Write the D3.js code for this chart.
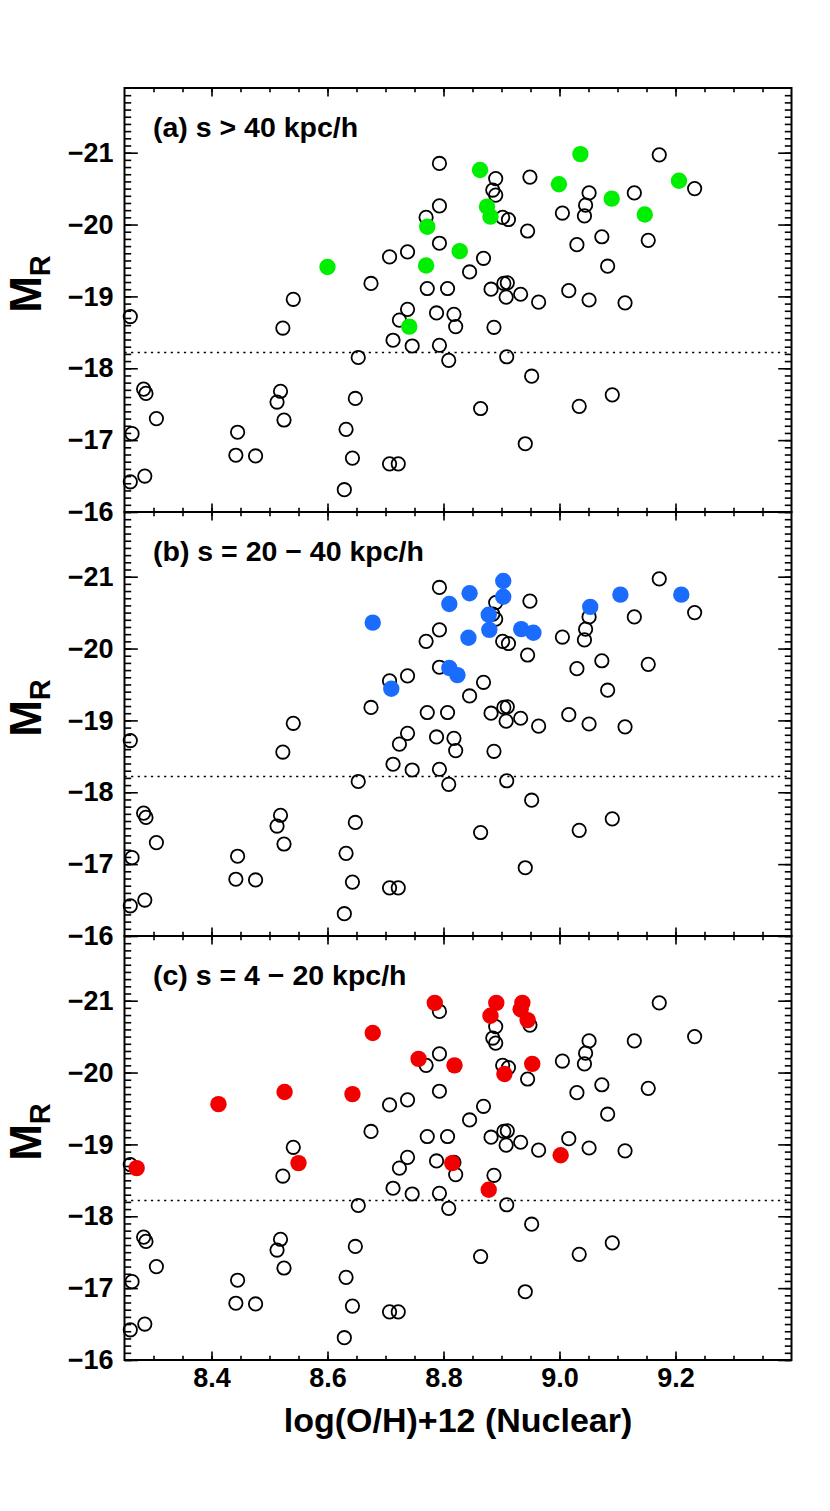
<!DOCTYPE html>
<html><head><meta charset="utf-8">
<script src="https://cdn.jsdelivr.net/npm/d3@7"></script>
<style>body{margin:0;background:#fff}svg{display:block}</style></head>
<body><svg id="chart" width="830" height="1511"></svg>
<script>
// Field sample (open circles, identical in all panels)
const sampleOH = [8.260,8.541,8.523,8.675,8.707,8.738,8.793,8.772,8.807,8.738,8.724,8.788,8.818,8.821,8.713,8.746,8.793,8.809,8.653,8.283,8.287,8.305,8.263,8.260,8.285,8.519,8.513,8.525,8.445,8.442,8.476,8.648,8.632,8.643,8.629,8.707,8.722,9.172,8.890,8.949,8.885,8.890,9.051,9.129,9.233,9.045,9.043,9.005,8.902,8.912,8.945,9.073,9.030,9.153,8.793,8.793,8.869,8.845,9.083,8.882,8.904,8.910,8.908,8.933,8.964,9.016,9.051,9.113,8.887,8.909,8.952,8.864,9.034,9.091,8.770,8.941];
const sampleMR = [-18.72,-18.96,-18.56,-19.18,-19.55,-19.62,-19.74,-19.11,-19.11,-18.82,-18.67,-18.77,-18.75,-18.58,-18.39,-18.31,-18.32,-18.11,-18.15,-17.71,-17.65,-17.30,-17.09,-16.42,-16.50,-17.68,-17.53,-17.28,-17.11,-16.79,-16.78,-17.58,-17.15,-16.75,-16.31,-16.67,-16.67,-20.97,-20.64,-20.66,-20.48,-20.41,-20.44,-20.44,-20.50,-20.27,-20.12,-20.16,-20.10,-20.07,-19.91,-19.83,-19.72,-19.78,-20.85,-20.26,-19.53,-19.34,-19.42,-19.10,-19.18,-19.19,-18.99,-19.03,-18.92,-19.08,-18.95,-18.91,-18.57,-18.16,-17.89,-17.44,-17.47,-17.63,-20.10,-16.95];

// (a) s > 40 kpc/h
const farOH = [8.600,8.741,8.770,8.772,8.828,8.863,8.875,8.881,8.999,9.036,9.090,9.147,9.206];
const farMR = [-19.41,-18.58,-19.43,-19.97,-19.63,-20.76,-20.25,-20.11,-20.56,-20.98,-20.36,-20.14,-20.61];
// (b) s = 20 - 40 kpc/h
const midOH = [8.678,8.810,8.845,8.843,8.878,8.879,8.903,8.903,8.934,8.955,9.053,9.105,9.210,8.810,8.824,8.710];
const midMR = [-20.36,-20.62,-20.77,-20.15,-20.47,-20.26,-20.94,-20.72,-20.27,-20.22,-20.58,-20.75,-20.75,-19.73,-19.63,-19.44];
// (c) s = 4 - 20 kpc/h
const closeOH = [8.271,8.412,8.526,8.550,8.643,8.678,8.757,8.785,8.819,8.815,8.881,8.891,8.905,8.933,8.936,8.945,8.953,9.002,8.878];
const closeMR = [-18.67,-19.56,-19.73,-18.74,-19.70,-20.55,-20.19,-20.97,-20.10,-18.74,-20.79,-20.97,-19.98,-20.88,-20.97,-20.73,-20.12,-18.85,-18.37];

const panelLabels = ["(a) s > 40 kpc/h", "(b) s = 20 \u2212 40 kpc/h", "(c) s = 4 \u2212 20 kpc/h"];
const panelColors = ["#00ee00", "#1a6cff", "#f20000"];
const xTickValues = [8.4, 8.6, 8.8, 9.0, 9.2];
const yTickValues = [-21, -20, -19, -18, -17, -16];
const xDomain = [8.25, 9.4];
const yDomain = [-21.9, -16.0];
const cutMR = -18.22;
const xTitle = "log(O/H)+12 (Nuclear)";

const panels = [
  {oh: farOH, mr: farMR},
  {oh: midOH, mr: midMR},
  {oh: closeOH, mr: closeMR}
];

const svg = d3.select("#chart");
const FONT = "'Liberation Sans', Arial, Helvetica, sans-serif";
const left = 124.5, right = 791.5, top0 = 88, ph = 424;
const x = d3.scaleLinear().domain(xDomain).range([left, right]);
const xMinor = d3.range(8.30, 9.40, 0.05).map(v => +v.toFixed(2));
const yMinor = d3.range(-21.8, -16.0, 0.1).map(v => +v.toFixed(1));

panels.forEach((p, i) => {
  const t = top0 + i * ph;
  const y = d3.scaleLinear().domain(yDomain).range([t, t + ph]);
  const g = svg.append("g");

  // dotted luminosity cut
  g.append("line")
    .attr("x1", x(xDomain[0])).attr("x2", x(xDomain[1]))
    .attr("y1", y(cutMR)).attr("y2", y(cutMR))
    .attr("stroke", "#000").attr("stroke-width", 1.6)
    .attr("stroke-dasharray", "2.2,4.4");

  const addAxis = (axis, tx, ty) => {
    const a = g.append("g").attr("transform", `translate(${tx},${ty})`).call(axis);
    a.select(".domain").remove();
    a.selectAll("line").attr("stroke", "#000").attr("stroke-width", 1.6);
    return a;
  };
  addAxis(d3.axisBottom(x).tickValues(xMinor).tickSize(-4.3).tickFormat(""), 0, t + ph);
  addAxis(d3.axisBottom(x).tickValues(xTickValues).tickSize(-8.6).tickFormat(""), 0, t + ph);
  addAxis(d3.axisTop(x).tickValues(xMinor).tickSize(-4.3).tickFormat(""), 0, t);
  addAxis(d3.axisTop(x).tickValues(xTickValues).tickSize(-8.6).tickFormat(""), 0, t);
  addAxis(d3.axisLeft(y).tickValues(yMinor).tickSize(-6.7).tickFormat(""), left, 0);
  const yl = addAxis(d3.axisLeft(y).tickValues(yTickValues).tickSize(-13.3).tickPadding(11)
      .tickFormat(d => "\u2212" + Math.abs(d)), left, 0);
  yl.selectAll("text").attr("font-family", FONT).attr("font-weight", "bold")
    .attr("font-size", 27).attr("fill", "#000");
  addAxis(d3.axisRight(y).tickValues(yMinor).tickSize(-6.7).tickFormat(""), right, 0);
  addAxis(d3.axisRight(y).tickValues(yTickValues).tickSize(-13.3).tickFormat(""), right, 0);

  if (i === 2) {
    const xl = addAxis(d3.axisBottom(x).tickValues(xTickValues).tickSize(0).tickPadding(8)
        .tickFormat(d3.format(".1f")), 0, t + ph);
    xl.selectAll("text").attr("font-family", FONT).attr("font-weight", "bold")
      .attr("font-size", 27).attr("fill", "#000");
  }

  // field sample
  g.append("g").selectAll("circle").data(sampleOH.map((v, k) => [v, sampleMR[k]]))
    .join("circle")
    .attr("cx", d => x(d[0])).attr("cy", d => y(d[1])).attr("r", 6.7)
    .attr("fill", "none").attr("stroke", "#000").attr("stroke-width", 1.8);

  // pair galaxies
  g.append("g").selectAll("circle").data(p.oh.map((v, k) => [v, p.mr[k]]))
    .join("circle")
    .attr("cx", d => x(d[0])).attr("cy", d => y(d[1])).attr("r", 8.2)
    .attr("fill", panelColors[i]);

  // frame
  g.append("rect").attr("x", left).attr("y", t).attr("width", right - left).attr("height", ph)
    .attr("fill", "none").attr("stroke", "#000").attr("stroke-width", 2);

  // panel label
  g.append("text").attr("x", 153).attr("y", t + 49)
    .attr("font-family", FONT).attr("font-weight", "bold").attr("font-size", 28.5)
    .text(panelLabels[i]);

  // M_R label
  const yt = g.append("text")
    .attr("transform", `translate(41,${t + 196}) rotate(-90)`)
    .attr("text-anchor", "middle")
    .attr("font-family", FONT).attr("font-weight", "bold").attr("font-size", 44);
  yt.append("tspan").text("M");
  yt.append("tspan").attr("font-size", 29).attr("dy", 9).text("R");
});

svg.append("text").attr("x", (left + right) / 2).attr("y", 1432)
  .attr("text-anchor", "middle")
  .attr("font-family", FONT).attr("font-weight", "bold").attr("font-size", 34)
  .text(xTitle);
</script>
</body></html>
